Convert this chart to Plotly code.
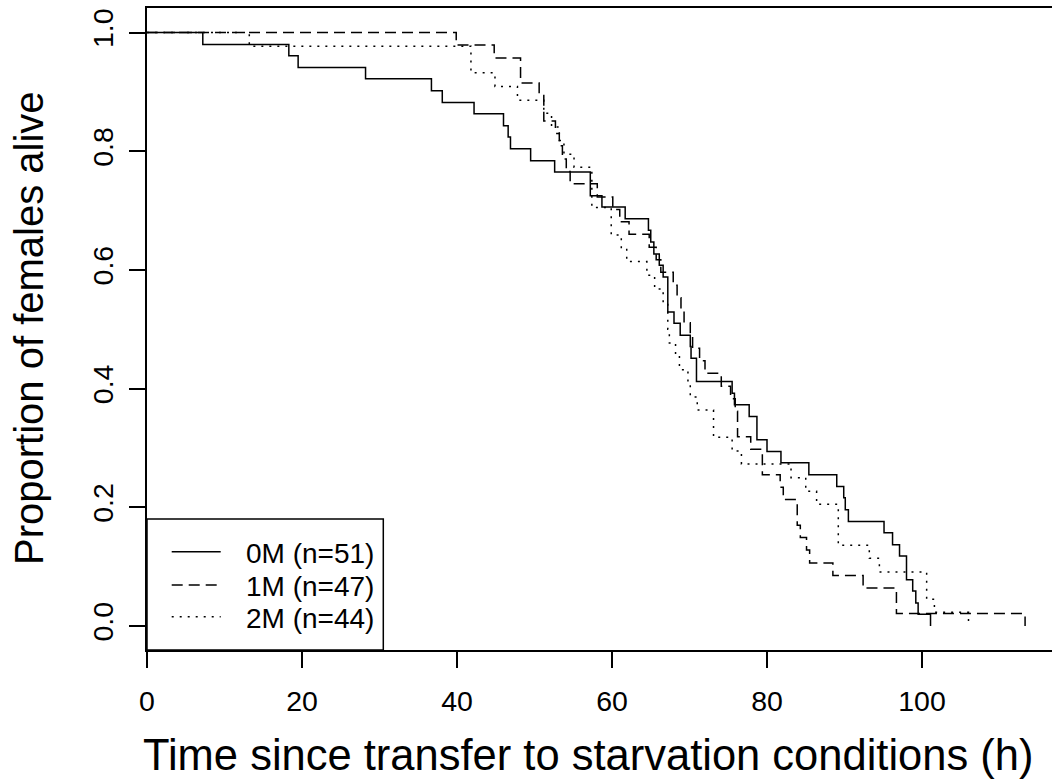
import plotly.graph_objects as go

# ---- data ----
# 0M (n=51): time of each drop and survival after it
t_0M = [0, 7.2, 18.3, 19.5, 28.2, 36.7, 38.1, 42.2, 46.0, 46.6, 46.9, 49.5, 52.6,
        57.2, 58.7, 61.7, 64.7, 65.0, 65.4, 66.1, 66.6, 67.2, 68.0, 68.8, 70.1,
        70.2, 70.9, 75.5, 75.8, 77.7, 78.7, 80.0, 81.8, 85.4, 89.0, 89.9, 90.1,
        90.5, 95.1, 96.2, 97.1, 98.0, 98.8, 99.2, 99.5, 101.1]
s_0M = [1.0, 0.980, 0.961, 0.941, 0.922, 0.902, 0.882, 0.863, 0.843, 0.824, 0.804, 0.784, 0.765,
        0.725, 0.706, 0.686, 0.667, 0.647, 0.627, 0.608, 0.588, 0.529, 0.510, 0.490, 0.471,
        0.451, 0.412, 0.392, 0.373, 0.353, 0.314, 0.294, 0.275, 0.255, 0.235, 0.216, 0.196,
        0.176, 0.157, 0.137, 0.118, 0.078, 0.059, 0.039, 0.020, 0.0]

# 1M (n=47)
t_1M = [0, 39.9, 44.8, 48.2, 50.6, 51.2, 52.7, 53.2, 53.6, 54.1, 54.6, 58.1, 60.1,
        61.0, 62.2, 64.8, 65.7, 66.3, 67.9, 68.4, 68.9, 69.3, 70.1, 70.4, 71.3,
        72.0, 74.1, 75.3, 75.9, 76.2, 77.9, 79.4, 81.7, 82.1, 83.9, 84.3, 85.1,
        85.5, 88.5, 92.4, 96.7, 113.3]
s_1M = [1.0, 0.979, 0.957, 0.915, 0.894, 0.851, 0.830, 0.809, 0.787, 0.766, 0.745, 0.723, 0.702,
        0.681, 0.660, 0.638, 0.617, 0.596, 0.574, 0.553, 0.532, 0.511, 0.489, 0.468, 0.447,
        0.426, 0.404, 0.383, 0.362, 0.319, 0.298, 0.255, 0.234, 0.213, 0.170, 0.149, 0.128,
        0.106, 0.085, 0.064, 0.021, 0.0]

# 2M (n=44)
t_2M = [0, 13.2, 41.8, 44.9, 47.8, 51.2, 52.2, 53.2, 53.8, 55.1, 57.4, 59.9, 61.2,
        61.9, 64.5, 65.5, 66.6, 67.2, 67.4, 68.2, 68.7, 69.8, 70.1, 71.0, 73.1,
        75.5, 76.7, 83.1, 85.0, 86.4, 89.2, 93.2, 94.5, 100.6, 101.6, 106.0]
s_2M = [1.0, 0.977, 0.932, 0.909, 0.886, 0.864, 0.841, 0.818, 0.795, 0.773, 0.705, 0.659, 0.636,
        0.614, 0.591, 0.568, 0.545, 0.500, 0.477, 0.455, 0.432, 0.409, 0.386, 0.364, 0.318,
        0.295, 0.273, 0.250, 0.227, 0.205, 0.136, 0.114, 0.091, 0.045, 0.023, 0.0]

group_labels = ["0M (n=51)", "1M (n=47)", "2M (n=44)"]
x_ticks = [0, 20, 40, 60, 80, 100]
y_ticks = [0.0, 0.2, 0.4, 0.6, 0.8, 1.0]
y_tick_text = ["0.0", "0.2", "0.4", "0.6", "0.8", "1.0"]
x_title = "Time since transfer to starvation conditions (h)"
y_title = "Proportion of females alive"

# ---- styling ----
FONT = "Liberation Sans, Arial, Helvetica, sans-serif"
W, H = 1052, 782
ML, MR, MT, MB = 147, 0, 8, 132
PW, PH = W - ML - MR, H - MT - MB
LW = 1.5
dashes = ["solid", "11px,6px", "2px,6px"]

def px_x(p):
    return (p - ML) / PW

def px_y(p):
    return (H - MB - p) / PH

fig = go.Figure()
for t, s, d, name in zip([t_0M, t_1M, t_2M], [s_0M, s_1M, s_2M], dashes, group_labels):
    fig.add_trace(go.Scatter(x=t, y=s, mode="lines", line=dict(shape="hv", color="black", width=LW, dash=d),
                             name=name, showlegend=False))

fig.update_layout(
    width=W, height=H,
    margin=dict(l=ML, r=MR, t=MT, b=MB, pad=0),
    paper_bgcolor="white", plot_bgcolor="white",
    font=dict(family=FONT, color="black", size=28),
    xaxis=dict(range=[0, PW / 7.75], tickvals=x_ticks, ticks="outside", ticklen=16, tickwidth=LW,
               tickcolor="black", showline=True, linecolor="black", linewidth=LW, mirror=True,
               showgrid=False, zeroline=False, tickfont=dict(size=28.5, family=FONT),
               ticklabelstandoff=9),
    yaxis=dict(range=[-0.0404, 1.0413], tickvals=y_ticks, ticktext=y_tick_text, ticks="outside",
               ticklen=16, tickwidth=LW, tickcolor="black", showline=True, linecolor="black",
               linewidth=LW, mirror=False, showgrid=False, zeroline=False, tickangle=-90,
               tickfont=dict(size=28.5, family=FONT), ticklabelstandoff=5),
)

annotations = [
    dict(text=x_title, xref="paper", yref="paper", x=px_x(588), y=px_y(755), xanchor="center",
         yanchor="middle", showarrow=False, font=dict(size=43.5, family=FONT, color="black")),
    dict(text=y_title, xref="paper", yref="paper", x=px_x(29), y=px_y(328), xanchor="center",
         yanchor="middle", textangle=-90, showarrow=False, font=dict(size=40, family=FONT, color="black")),
]
shapes = [
    dict(type="rect", xref="paper", yref="paper", x0=0, x1=px_x(383.3), y0=0, y1=px_y(519),
         line=dict(color="black", width=LW), fillcolor="white", layer="above"),
]
rows = [551.7, 585, 616.7]
for r, d, name in zip(rows, dashes, group_labels):
    shapes.append(dict(type="line", xref="paper", yref="paper", x0=px_x(171.7), x1=px_x(220.7),
                       y0=px_y(r), y1=px_y(r), line=dict(color="black", width=LW, dash=d), layer="above"))
    annotations.append(dict(text=name, xref="paper", yref="paper", x=px_x(244), y=px_y(r + 1.3),
                            xanchor="left", yanchor="middle", showarrow=False,
                            font=dict(size=28, family=FONT, color="black")))
fig.update_layout(annotations=annotations, shapes=shapes)

fig.write_html("out.html")
